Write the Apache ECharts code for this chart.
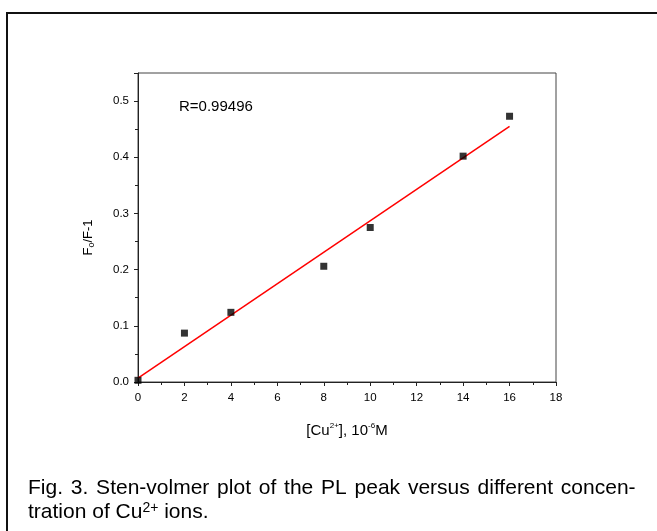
<!DOCTYPE html>
<html>
<head>
<meta charset="utf-8">
<script src="https://cdn.jsdelivr.net/npm/echarts@6/dist/echarts.min.js"></script>
<style>
  html, body { margin: 0; padding: 0; background: #fff; }
  #chart { width: 657px; height: 531px; }
</style>
</head>
<body>
<div id="chart"></div>
<script>
// Cu2+ concentration (10^-6 M) and measured Fo/F-1
const concentration = [0, 2, 4, 8, 10, 14, 16];
const quench = [0.003, 0.087, 0.124, 0.206, 0.275, 0.402, 0.473];
// linear fit, end points
const fitX = [0, 16];
const fitY = [0.007, 0.455];
const xTicks = [0, 2, 4, 6, 8, 10, 12, 14, 16, 18];
const yTicks = [0.0, 0.1, 0.2, 0.3, 0.4, 0.5];

const font = 'Liberation Sans, Arial, sans-serif';

// caption line 1 is justified in the original, so widen the word gaps
const captionWords = 'Fig. 3. Sten-volmer plot of the PL peak versus different concen-'.split(' ');
const captionLine1 = captionWords.map(w => '{t|' + w + '}').join('{s| }');

const chart = echarts.init(document.getElementById('chart'));

const option = {
  backgroundColor: '#fff',
  animation: false,
  grid: {
    left: 138,
    right: 101,
    top: 73,
    bottom: 149,
    show: true,
    borderColor: '#444',
    borderWidth: 1
  },
  xAxis: {
    type: 'value',
    min: xTicks[0],
    max: xTicks[xTicks.length - 1],
    interval: 2,
    name: '{t|[Cu}{sup|2+}{t|], 10}{sup|-6}{t|M}',
    nameLocation: 'middle',
    nameGap: 40,
    nameTextStyle: {
      rich: {
        t: { fontFamily: font, fontSize: 15, color: '#000', verticalAlign: 'bottom' },
        sup: { fontFamily: font, fontSize: 8, color: '#000', verticalAlign: 'top', padding: [0, 0, 8, 0] }
      }
    },
    axisLine: { lineStyle: { color: '#222', width: 1 } },
    axisTick: { inside: false, length: 4, lineStyle: { color: '#222' } },
    minorTick: { show: true, splitNumber: 2, length: 3, lineStyle: { color: '#222' } },
    axisLabel: { fontFamily: font, fontSize: 11.5, color: '#000', margin: 10 },
    splitLine: { show: false }
  },
  yAxis: {
    type: 'value',
    min: 0,
    max: 0.55,
    interval: 0.1,
    name: '{t|F}{sub|o}{t|/F-1}',
    nameLocation: 'middle',
    nameRotate: 90,
    nameGap: 42,
    nameTextStyle: {
      padding: [0, 20, 0, 0],
      rich: {
        t: { fontFamily: font, fontSize: 13, color: '#000' },
        sub: { fontFamily: font, fontSize: 9, color: '#000', padding: [7, 0, 0, 0] }
      }
    },
    axisLine: { lineStyle: { color: '#222', width: 1 } },
    axisTick: { inside: false, length: 4, lineStyle: { color: '#222' } },
    minorTick: { show: true, splitNumber: 2, length: 3, lineStyle: { color: '#222' } },
    axisLabel: {
      fontFamily: font,
      fontSize: 11.5,
      color: '#000',
      margin: 9,
      showMaxLabel: false,
      formatter: v => v.toFixed(1)
    },
    splitLine: { show: false }
  },
  title: [
    {
      text: captionLine1,
      left: 23,
      top: 473,
      textStyle: {
        rich: {
          t: { fontFamily: font, fontSize: 21, fontWeight: 'normal', color: '#000' },
          s: { fontFamily: font, fontSize: 21, fontWeight: 'normal', width: 7.8 }
        }
      }
    },
    {
      text: '{t|tration of Cu}{sup|2+}{t| ions.}',
      left: 23,
      top: 496,
      textStyle: {
        rich: {
          t: { fontFamily: font, fontSize: 21, fontWeight: 'normal', color: '#000', verticalAlign: 'bottom' },
          sup: { fontFamily: font, fontSize: 14, fontWeight: 'normal', color: '#000', verticalAlign: 'top', padding: [0, 0, 8, 0] }
        }
      }
    }
  ],
  graphic: [
    {
      type: 'polyline',
      shape: { points: [[7, 531], [7, 13], [657, 13]] },
      style: { stroke: '#111', lineWidth: 2, fill: null }
    },
    {
      type: 'text',
      left: 179,
      top: 99,
      style: { text: 'R=0.99496', fontFamily: font, fontSize: 15, fill: '#000' }
    }
  ],
  series: [
    {
      type: 'line',
      data: fitX.map((x, i) => [x, fitY[i]]),
      symbol: 'none',
      lineStyle: { color: '#f00', width: 1.5 },
      z: 2
    },
    {
      type: 'scatter',
      data: concentration.map((x, i) => [x, quench[i]]),
      symbol: 'rect',
      symbolSize: 7,
      itemStyle: { color: '#000' },
      z: 3
    }
  ]
};

chart.setOption(option);
</script>
</body>
</html>
